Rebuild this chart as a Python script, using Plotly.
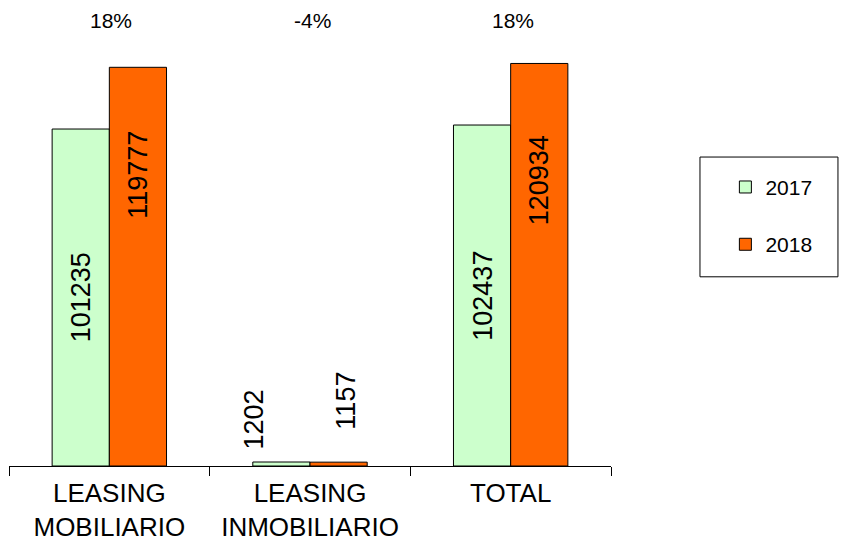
import plotly.graph_objects as go

# ---- data ----
categories = ["LEASING<br>MOBILIARIO", "LEASING<br>INMOBILIARIO", "TOTAL"]
series_names = ["2017", "2018"]
values_2017 = [101235, 1202, 102437]
values_2018 = [119777, 1157, 120934]
growth_labels = ["18%", "-4%", "18%"]

# ---- style ----
COL_2017 = "#CCFFCC"
COL_2018 = "#FF6600"
FONT = "Liberation Sans, Arial, sans-serif"
W, H = 843, 543
ML, MR, MT, MB = 9, 232, 0, 77
Y_MAX = 140000
BAR_PX = 57  # half-group offset in px

# label placement (fraction of bar height, extra xshift, yshift) per category
lab17 = [(0.5, 0, 0), (1.0, -28, 42), (0.5, 0, 0)]
lab18 = [(0.73, 0, 0), (1.0, 8, 61), (0.71, 0, 0)]

fig = go.Figure()
fig.add_trace(go.Bar(
    name=series_names[0], x=categories, y=values_2017,
    marker=dict(color=COL_2017, line=dict(color="#000000", width=1)),
    legendgroup="a",
))
fig.add_trace(go.Bar(
    name=series_names[1], x=categories, y=values_2018,
    marker=dict(color=COL_2018, line=dict(color="#000000", width=1)),
    legendgroup="b",
))

annotations = []
for i, cat in enumerate(categories):
    f, dx, dy = lab17[i]
    annotations.append(dict(
        x=cat, y=values_2017[i] * f, xref="x", yref="y",
        text=str(values_2017[i]), textangle=-90, showarrow=False,
        xshift=-BAR_PX / 2 + dx, yshift=dy, yanchor="middle",
        font=dict(family=FONT, size=27, color="#000000"),
    ))
    f, dx, dy = lab18[i]
    annotations.append(dict(
        x=cat, y=values_2018[i] * f, xref="x", yref="y",
        text=str(values_2018[i]), textangle=-90, showarrow=False,
        xshift=BAR_PX / 2 + dx, yshift=dy, yanchor="middle",
        font=dict(family=FONT, size=27, color="#000000"),
    ))
    annotations.append(dict(
        x=cat, y=0.955, xref="x", yref="paper",
        text=growth_labels[i], showarrow=False, yanchor="middle",
        xshift=2,
        font=dict(family=FONT, size=21, color="#000000"),
    ))

fig.update_layout(
    width=W, height=H,
    margin=dict(l=ML, r=MR, t=MT, b=MB, autoexpand=False),
    paper_bgcolor="#FFFFFF", plot_bgcolor="#FFFFFF",
    barmode="group", bargap=0.43, bargroupgap=0,
    font=dict(family=FONT, size=26, color="#000000"),
    showlegend=True,
    legend=dict(
        x=1.19, xanchor="left", y=0.642, yanchor="top",
        font=dict(family=FONT, size=21, color="#000000"),
        tracegroupgap=27, borderwidth=0, bgcolor="rgba(0,0,0,0)",
        traceorder="grouped",
    ),
    xaxis=dict(
        showline=True, linecolor="#000000", linewidth=1,
        ticks="outside", tickson="boundaries", ticklen=9,
        tickcolor="#000000", tickwidth=1, ticklabelstandoff=4,
        tickfont=dict(family=FONT, size=26, color="#000000"),
        showgrid=False, zeroline=False, fixedrange=True,
        automargin=False,
    ),
    yaxis=dict(visible=False, range=[0, Y_MAX], fixedrange=True,
               automargin=False),
    annotations=annotations,
    shapes=[dict(
        type="rect", xref="paper", yref="paper",
        x0=1.1478, x1=1.3770, y0=0.406, y1=0.663,
        line=dict(color="#000000", width=1), fillcolor="rgba(0,0,0,0)",
    )],
)

fig.write_html("out.html", config={"displayModeBar": False},
               post_script="document.body.style.margin='0';")
